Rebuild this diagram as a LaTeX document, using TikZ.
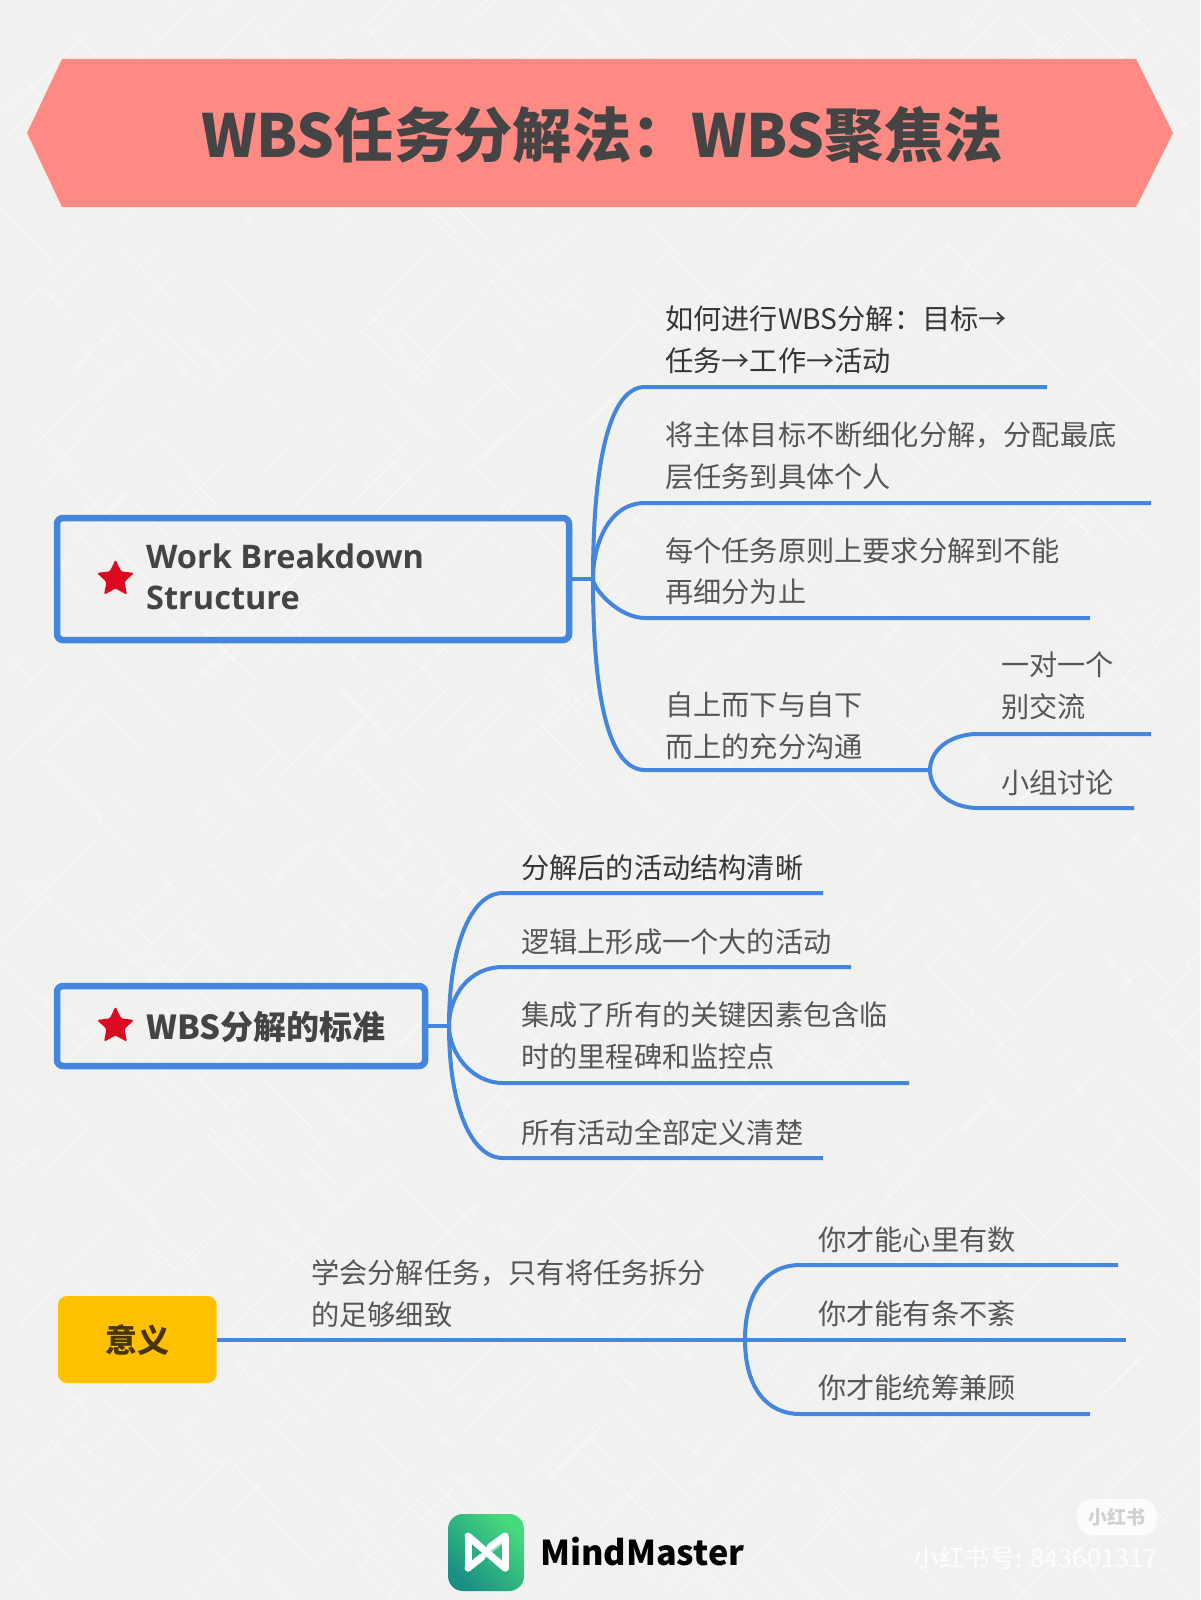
\documentclass[tikz,border=0pt]{standalone}
\usepackage{fontspec}
\setmainfont{Noto Sans CJK SC}
\newfontfamily\humanist{Open Sans}
\usetikzlibrary{shapes.geometric}
\definecolor{bgbase}{HTML}{F1F1F0}
\definecolor{bannerfill}{HTML}{FF8A84}
\definecolor{bluebranch}{HTML}{4486DF}
\definecolor{inkgrey}{HTML}{565656}
\definecolor{inkdark}{HTML}{363636}
\definecolor{titleink}{HTML}{444444}
\definecolor{starred}{HTML}{DC0A20}
\definecolor{amber}{HTML}{FFC000}
\definecolor{logoa}{HTML}{47DA7C}
\definecolor{logob}{HTML}{1A8F84}
\tikzset{
  x=1pt,y=-1pt,
  branch/.style={draw=bluebranch,line width=4pt,line cap=butt},
  rootbox/.style={draw=bluebranch,line width=6.5pt,rounded corners=6pt,fill=none,inner sep=0pt,outer sep=0pt,anchor=north west},
  leaftext/.style={anchor=west,align=left,inner sep=0pt,text=inkgrey,font=\fontsize{28.2}{41.5}\selectfont},
  leafdark/.style={leaftext,text=inkdark},
  roottext/.style={anchor=west,align=left,inner sep=0pt,text=titleink,font=\fontsize{33}{41}\selectfont\bfseries},
  starmark/.style={star,star points=5,star point ratio=2.05,fill=starred,minimum size=39pt,inner sep=0pt,rounded corners=1.5pt},
}
\begin{document}
\begin{tikzpicture}
\useasboundingbox (0,0) rectangle (1200,1600);
% paper background
\fill[bgbase] (0,0) rectangle (1200,1600);
\begin{scope}
\clip (0,0) rectangle (1200,1600);
\pgfmathsetseed{7}
\foreach \i in {1,...,900}{
  \pgfmathsetmacro{\px}{rnd*1200}
  \pgfmathsetmacro{\py}{rnd*1600}
  \pgfmathsetmacro{\ln}{15+rnd*45}
  \pgfmathsetmacro{\wd}{.6+rnd*1.6}
  \draw[white,opacity=.3,line width=\wd pt] (\px,\py) -- ++(\ln,\ln);
  \pgfmathsetmacro{\qx}{rnd*1200}
  \pgfmathsetmacro{\qy}{rnd*1600}
  \draw[white,opacity=.3,line width=\wd pt] (\qx,\qy) -- ++(\ln,-\ln);
}
\end{scope}

% banner
\fill[bannerfill] (62,59) -- (1136,59) -- (1173,133) -- (1136,207) -- (62,207) -- (27,133) -- cycle;
\node[anchor=center,inner sep=0pt,text=titleink,font=\fontsize{59.4}{60}\selectfont\bfseries] (title) at (602,135) {WBS任务分解法：WBS聚焦法};

% ---- root 1
\node[rootbox,minimum width=512pt,minimum height=122pt] (rootA) at (57,518) {};
\node[starmark] (starA) at (115.5,579) {};
\node[roottext,font=\fontsize{32.5}{41}\humanist\bfseries] (rootAtext) at (146,576.5) {Work Breakdown\\Structure};
\coordinate (jA) at (593,579);
\coordinate (a1s) at (645,387); \coordinate (a1e) at (1047,387);
\coordinate (a2s) at (645,503); \coordinate (a2e) at (1151,503);
\coordinate (a3s) at (645,618); \coordinate (a3e) at (1090,618);
\coordinate (a4s) at (645,770); \coordinate (jB) at (930,770);
\coordinate (b1s) at (978,734); \coordinate (b1e) at (1151,734);
\coordinate (b2s) at (978,808); \coordinate (b2e) at (1134,808);
\draw[branch] (rootA.east) -- (jA);
\draw[branch] (jA) .. controls +(0,-115) and +(-36,0) .. (a1s) -- (a1e);
\draw[branch] (jA) .. controls +(0,-35) and +(-36,0) .. (a2s) -- (a2e);
\draw[branch] (jA) .. controls +(0,10) and +(-26,0) .. (a3s) -- (a3e);
\draw[branch] (jA) .. controls +(0,120) and +(-36,0) .. (a4s) -- (jB);
\draw[branch] (jB) .. controls +(0,-20) and +(-28,0) .. (b1s) -- (b1e);
\draw[branch] (jB) .. controls +(0,20) and +(-28,0) .. (b2s) -- (b2e);
\node[leafdark] (a1t) at (665,340) {如何进行WBS分解：目标→\\任务→工作→活动};
\node[leaftext] (a2t) at (665,456) {将主体目标不断细化分解，分配最底\\层任务到具体个人};
\node[leaftext] (a3t) at (665,571) {每个任务原则上要求分解到不能\\再细分为止};
\node[leaftext] (a4t) at (665,726) {自上而下与自下\\而上的充分沟通};
\node[leaftext] (b1t) at (1001,686) {一对一个\\别交流};
\node[leaftext] (b2t) at (1001,783) {小组讨论};

% ---- root 2
\node[rootbox,minimum width=368pt,minimum height=80pt] (rootB) at (57,986) {};
\node[starmark] (starB) at (115.5,1026) {};
\node[roottext] (rootBtext) at (146,1027) {WBS分解的标准};
\coordinate (jC) at (449,1026);
\coordinate (c1s) at (503,893); \coordinate (c1e) at (823,893);
\coordinate (c2s) at (503,967); \coordinate (c2e) at (851,967);
\coordinate (c3s) at (503,1083); \coordinate (c3e) at (909,1083);
\coordinate (c4s) at (503,1158); \coordinate (c4e) at (823,1158);
\draw[branch] (rootB.east) -- (jC);
\draw[branch] (jC) .. controls +(0,-80) and +(-32,0) .. (c1s) -- (c1e);
\draw[branch] (jC) .. controls +(0,-30) and +(-34,0) .. (c2s) -- (c2e);
\draw[branch] (jC) .. controls +(0,26) and +(-32,0) .. (c3s) -- (c3e);
\draw[branch] (jC) .. controls +(0,80) and +(-32,0) .. (c4s) -- (c4e);
\node[leafdark] (c1t) at (521,868) {分解后的活动结构清晰};
\node[leaftext] (c2t) at (521,942) {逻辑上形成一个大的活动};
\node[leaftext] (c3t) at (521,1035.5) {集成了所有的关键因素包含临\\时的里程碑和监控点};
\node[leaftext] (c4t) at (521,1133) {所有活动全部定义清楚};

% ---- root 3
\node[fill=amber,rounded corners=9pt,minimum width=158.5pt,minimum height=87pt,inner sep=0pt,outer sep=0pt,anchor=north west] (rootC) at (58,1296) {};
\node[anchor=center,inner sep=0pt,text=black!72!amber,font=\fontsize{32}{32}\selectfont\bfseries] (rootCtext) at (137.5,1340) {意义};
\coordinate (jD) at (745,1339.5);
\coordinate (d2e) at (1126,1339.5);
\coordinate (d1s) at (800,1265); \coordinate (d1e) at (1118,1265);
\coordinate (d3s) at (800,1414); \coordinate (d3e) at (1090,1414);
\draw[branch] (rootC.east) -- (jD) -- (d2e);
\draw[branch] (jD) .. controls +(0,-50) and +(-32,0) .. (d1s) -- (d1e);
\draw[branch] (jD) .. controls +(0,50) and +(-32,0) .. (d3s) -- (d3e);
\node[leaftext] (d0t) at (311,1293.5) {学会分解任务，只有将任务拆分\\的足够细致};
\node[leaftext] (d1t) at (818,1240) {你才能心里有数};
\node[leaftext] (d2t) at (818,1314) {你才能有条不紊};
\node[leaftext] (d3t) at (818,1388) {你才能统筹兼顾};

% ---- logo
\shade[left color=logoa,right color=logob,shading angle=-45,rounded corners=15pt] (448,1514) rectangle (524,1591);
\draw[white,opacity=.45,line width=6.5pt,line cap=round] (505,1538) -- (468,1568);
\draw[white,line width=7pt,line cap=round,line join=round] (505,1568) -- (505,1538) ;
\draw[white,line width=7pt,line cap=round,line join=round] (468,1538) -- (468,1568);
\draw[white,line width=7pt,line cap=round,line join=round] (468,1536) -- (505,1568);
\draw[white,line width=7pt,line cap=round,line join=round] (505,1536) -- (490,1547);
\draw[white,line width=7pt,line cap=round,line join=round] (468,1568) -- (482,1557);
\node[anchor=west,inner sep=0pt,text=black,font=\fontsize{34.2}{35}\selectfont\bfseries] (brand) at (540,1552) {MindMaster};

% ---- watermark
\node[fill=white,opacity=.85,rounded corners=16pt,minimum width=80pt,minimum height=36pt,inner sep=0pt] (badge) at (1117,1517) {};
\node[inner sep=0pt,text=black!18,font=\fontsize{19}{19}\selectfont\bfseries] (badgetext) at (1117,1517) {小红书};
\node[anchor=east,inner sep=0pt,text=white,opacity=.85,font=\fontsize{25.5}{25.5}\selectfont] (wm) at (1158,1558) {小红书号: 843601317};
\end{tikzpicture}
\end{document}
